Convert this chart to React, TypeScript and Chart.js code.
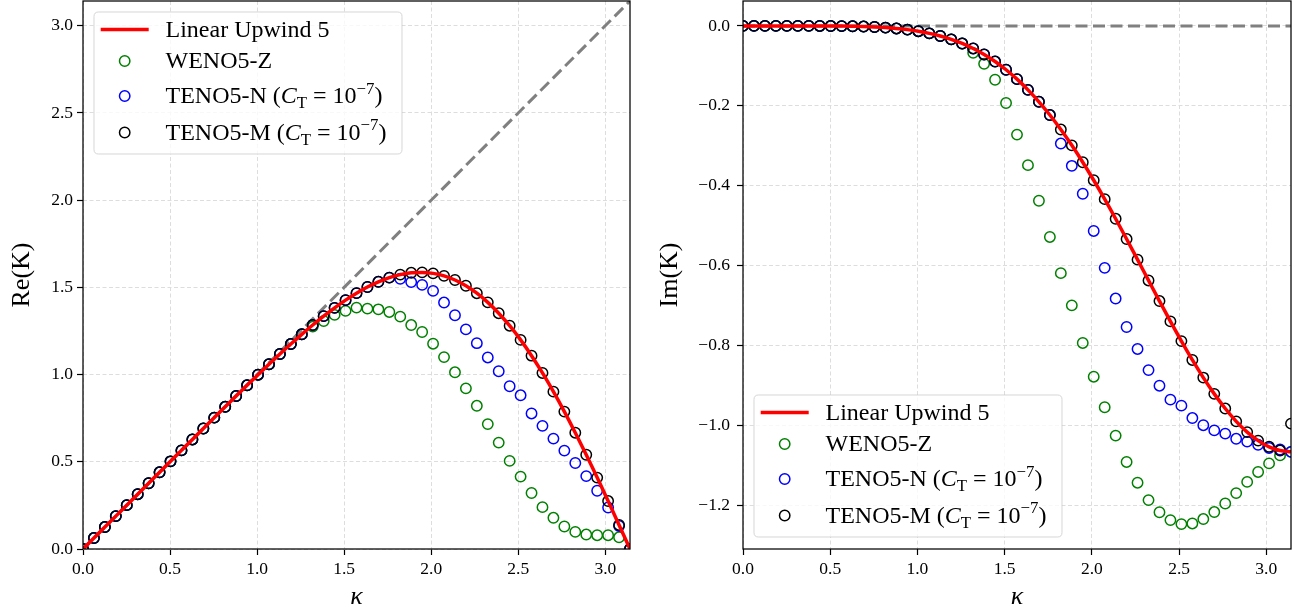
import React, { useEffect, useRef } from 'react';
import { Chart, registerables } from 'chart.js';

Chart.register(...registerables);

// ---------------- data ----------------
const kappa = [
  0, 0.0628, 0.1257, 0.1885, 0.2513, 0.3142, 0.377, 0.4398, 0.5027, 0.5655,
  0.6283, 0.6912, 0.754, 0.8168, 0.8796, 0.9425, 1.0053, 1.0681, 1.131, 1.1938,
  1.2566, 1.3195, 1.3823, 1.4451, 1.508, 1.5708, 1.6336, 1.6965, 1.7593, 1.8221,
  1.885, 1.9478, 2.0106, 2.0735, 2.1363, 2.1991, 2.2619, 2.3248, 2.3876, 2.4504,
  2.5133, 2.5761, 2.6389, 2.7018, 2.7646, 2.8274, 2.8903, 2.9531, 3.0159, 3.0788,
  3.1416,
];

const upwind5Re = [
  0, 0.0628, 0.1257, 0.1885, 0.2513, 0.3142, 0.377, 0.4398, 0.5026, 0.5654,
  0.6281, 0.6907, 0.7531, 0.8153, 0.8771, 0.9385, 0.9992, 1.0591, 1.1178, 1.1751,
  1.2307, 1.2841, 1.3349, 1.3826, 1.4267, 1.4667, 1.5019, 1.5318, 1.5557, 1.5731,
  1.5833, 1.5858, 1.5801, 1.5657, 1.5421, 1.5092, 1.4665, 1.4141, 1.3519, 1.28,
  1.1987, 1.1083, 1.0092, 0.9021, 0.7877, 0.6668, 0.5404, 0.4094, 0.2749, 0.138,
  0,
];
const weno5zRe = [
  0, 0.0628, 0.1257, 0.1885, 0.2513, 0.3142, 0.377, 0.4398, 0.5026, 0.5654,
  0.6281, 0.6907, 0.7531, 0.8153, 0.8771, 0.9385, 0.9992, 1.0591, 1.1178, 1.1751,
  1.2307, 1.275, 1.307, 1.342, 1.365, 1.384, 1.378, 1.374, 1.359, 1.332,
  1.284, 1.244, 1.177, 1.1, 1.013, 0.921, 0.821, 0.716, 0.61, 0.505,
  0.415, 0.321, 0.24, 0.179, 0.129, 0.098, 0.083, 0.079, 0.079, 0.067,
  0,
];
const teno5nRe = [
  0, 0.0628, 0.1257, 0.1885, 0.2513, 0.3142, 0.377, 0.4398, 0.5026, 0.5654,
  0.6281, 0.6907, 0.7531, 0.8153, 0.8771, 0.9385, 0.9992, 1.0591, 1.1178, 1.1751,
  1.2307, 1.2841, 1.3349, 1.3826, 1.4267, 1.4667, 1.5019, 1.5318, 1.5557, 1.549,
  1.53, 1.514, 1.48, 1.413, 1.34, 1.259, 1.18, 1.098, 1.019, 0.933,
  0.881, 0.777, 0.706, 0.633, 0.564, 0.493, 0.418, 0.334, 0.238, 0.132,
  0,
];
const teno5mRe = [
  0, 0.0628, 0.1257, 0.1885, 0.2513, 0.3142, 0.377, 0.4398, 0.5026, 0.5654,
  0.6281, 0.6907, 0.7531, 0.8153, 0.8771, 0.9385, 0.9992, 1.0591, 1.1178, 1.1751,
  1.2307, 1.2841, 1.3349, 1.3826, 1.4267, 1.4667, 1.5019, 1.5318, 1.5557, 1.5731,
  1.5833, 1.5858, 1.5801, 1.5657, 1.5421, 1.5092, 1.4665, 1.4141, 1.3519, 1.28,
  1.1987, 1.1083, 1.0092, 0.9021, 0.7877, 0.6668, 0.5404, 0.4094, 0.2749, 0.138,
  0,
];

const upwind5Im = [
  0, 0, 0, 0, 0, 0, 0, -0.0001, -0.0003, -0.0005,
  -0.0009, -0.0016, -0.0027, -0.0042, -0.0064, -0.0093, -0.0133, -0.0186, -0.0252, -0.0336,
  -0.044, -0.0565, -0.0715, -0.0892, -0.1098, -0.1333, -0.1601, -0.19, -0.2232, -0.2596,
  -0.2991, -0.3414, -0.3865, -0.4338, -0.483, -0.5337, -0.5854, -0.6374, -0.6891, -0.74,
  -0.7893, -0.8365, -0.8807, -0.9215, -0.9582, -0.9903, -1.0172, -1.0386, -1.0541, -1.0635,
  -1.0667,
];
const weno5zIm = [
  0, 0, 0, 0, 0, 0, 0, -0.0001, -0.0003, -0.0005,
  -0.0009, -0.0016, -0.0027, -0.0042, -0.0064, -0.0093, -0.0133, -0.0186, -0.0252, -0.0336,
  -0.044, -0.0674, -0.0949, -0.1348, -0.1931, -0.2722, -0.3487, -0.4378, -0.5285, -0.6192,
  -0.6998, -0.794, -0.8785, -0.955, -1.026, -1.092, -1.144, -1.1875, -1.218, -1.2376,
  -1.2476, -1.246, -1.235, -1.2175, -1.196, -1.17, -1.142, -1.117, -1.0956, -1.0756,
  -1.0667,
];
const teno5nIm = [
  0, 0, 0, 0, 0, 0, 0, -0.0001, -0.0003, -0.0005,
  -0.0009, -0.0016, -0.0027, -0.0042, -0.0064, -0.0093, -0.0133, -0.0186, -0.0252, -0.0336,
  -0.044, -0.0565, -0.0715, -0.0892, -0.1098, -0.1333, -0.1601, -0.19, -0.2232, -0.2946,
  -0.3504, -0.4203, -0.5135, -0.6059, -0.6828, -0.754, -0.809, -0.862, -0.901, -0.936,
  -0.951, -0.982, -1.0, -1.013, -1.021, -1.034, -1.041, -1.049, -1.057, -1.061,
  -1.0667,
];
const teno5mIm = [
  0, 0, 0, 0, 0, 0, 0, -0.0001, -0.0003, -0.0005,
  -0.0009, -0.0016, -0.0027, -0.0042, -0.0064, -0.0093, -0.0133, -0.0186, -0.0252, -0.0336,
  -0.044, -0.0565, -0.0715, -0.0892, -0.1098, -0.1333, -0.1601, -0.19, -0.2232, -0.2596,
  -0.2991, -0.3414, -0.3865, -0.4338, -0.483, -0.5337, -0.5854, -0.6374, -0.6891, -0.74,
  -0.7893, -0.8365, -0.8807, -0.9215, -0.9582, -0.9903, -1.0172, -1.0386, -1.0541, -1.0635,
  -0.996,
];

// reference (exact dispersion / zero dissipation) lines
const refReX = [0, 3.1416];
const refReY = [0, 3.1416];
const refImX = [0, 3.1416];
const refImY = [0, 0];

const xTicks = [0, 0.5, 1.0, 1.5, 2.0, 2.5, 3.0];
const reTicks = [0, 0.5, 1.0, 1.5, 2.0, 2.5, 3.0];
const imTicks = [0, -0.2, -0.4, -0.6, -0.8, -1.0, -1.2];

const kappaLimits = [0, 3.14159];
const reLimits = [0, 3.14159];
const imLimits = [-1.31, 0.0624];

const seriesNames = ['Linear Upwind 5', 'WENO5-Z', 'TENO5-N', 'TENO5-M'];
const seriesColors = ['#ff0000', '#008000', '#0000ff', '#000000'];
const thresholdText = { sym: 'C', sub: 'T', eq: ' = 10', sup: '\u22127' };

// ---------------- styling ----------------
const FAMILY = "'Liberation Serif', 'DejaVu Serif', serif";
const GRID = '#dddddd';
const MARKER_R = 5.2;
const MARKER_W = 1.5;

type Part = { t: string; italic?: boolean; scale?: number; dy?: number };

function drawParts(ctx: CanvasRenderingContext2D, x: number, y: number, parts: Part[], fs: number) {
  let cx = x;
  for (const p of parts) {
    const size = fs * (p.scale ?? 1);
    ctx.font = `${p.italic ? 'italic ' : ''}${size}px ${FAMILY}`;
    ctx.fillText(p.t, cx, y + (p.dy ?? 0) * fs);
    cx += ctx.measureText(p.t).width;
  }
  return cx - x;
}

function legendParts(i: number): Part[] {
  const name = seriesNames[i];
  if (i < 2) return [{ t: name }];
  return [
    { t: name + ' (' },
    { t: thresholdText.sym, italic: true },
    { t: thresholdText.sub, scale: 0.7, dy: 0.2 },
    { t: thresholdText.eq },
    { t: thresholdText.sup, scale: 0.7, dy: -0.4 },
    { t: ')' },
  ];
}

function makePlugin(corner: 'tl' | 'bl') {
  return {
    id: 'frameLegend' + corner,
    afterDatasetsDraw(chart: any) {
      const { ctx, chartArea: a } = chart;
      ctx.save();
      ctx.strokeStyle = '#000';
      ctx.lineWidth = 1.25;
      ctx.strokeRect(a.left, a.top, a.right - a.left, a.bottom - a.top);
      ctx.restore();
    },
    afterDraw(chart: any) {
      const { ctx, chartArea: a } = chart;
      const fs = 24;
      const boxH = 142;
      const bx = a.left + 11;
      const by = corner === 'tl' ? a.top + 11 : a.bottom - 12 - boxH;
      ctx.save();
      let maxW = 0;
      for (let i = 0; i < 4; i++) {
        let w = 0;
        for (const p of legendParts(i)) {
          ctx.font = `${p.italic ? 'italic ' : ''}${fs * (p.scale ?? 1)}px ${FAMILY}`;
          w += ctx.measureText(p.t).width;
        }
        maxW = Math.max(maxW, w);
      }
      const textX = bx + 71.5;
      const boxW = Math.max(308, textX - bx + maxW + 10);
      const r = 4.5;
      ctx.beginPath();
      ctx.moveTo(bx + r, by);
      ctx.lineTo(bx + boxW - r, by);
      ctx.quadraticCurveTo(bx + boxW, by, bx + boxW, by + r);
      ctx.lineTo(bx + boxW, by + boxH - r);
      ctx.quadraticCurveTo(bx + boxW, by + boxH, bx + boxW - r, by + boxH);
      ctx.lineTo(bx + r, by + boxH);
      ctx.quadraticCurveTo(bx, by + boxH, bx, by + boxH - r);
      ctx.lineTo(bx, by + r);
      ctx.quadraticCurveTo(bx, by, bx + r, by);
      ctx.closePath();
      ctx.fillStyle = 'rgba(255,255,255,0.8)';
      ctx.fill();
      ctx.strokeStyle = 'rgba(204,204,204,0.8)';
      ctx.lineWidth = 1;
      ctx.stroke();

      const rows = [17.5, 49, 84, 120.5];
      for (let i = 0; i < 4; i++) {
        const cy = by + rows[i];
        if (i === 0) {
          ctx.strokeStyle = seriesColors[0];
          ctx.lineWidth = 3.5;
          ctx.beginPath();
          ctx.moveTo(bx + 6.7, cy);
          ctx.lineTo(bx + 54.7, cy);
          ctx.stroke();
        } else {
          ctx.strokeStyle = seriesColors[i];
          ctx.lineWidth = MARKER_W;
          ctx.beginPath();
          ctx.arc(bx + 30.7, cy, MARKER_R, 0, Math.PI * 2);
          ctx.stroke();
        }
        ctx.fillStyle = '#000';
        ctx.textBaseline = 'alphabetic';
        drawParts(ctx, textX, cy + 0.31 * fs, legendParts(i), fs);
      }
      ctx.restore();
    },
  };
}

function fmt(v: number) {
  const s = Math.abs(v) < 1e-9 ? '0.0' : v.toFixed(1);
  return s.replace('-', '\u2212');
}

function buildConfig(panel: 're' | 'im'): any {
  const isRe = panel === 're';
  const lin = isRe ? upwind5Re : upwind5Im;
  const w = isRe ? weno5zRe : weno5zIm;
  const n = isRe ? teno5nRe : teno5nIm;
  const m = isRe ? teno5mRe : teno5mIm;
  const rx = isRe ? refReX : refImX;
  const ry = isRe ? refReY : refImY;
  const pts = (arr: number[]) => kappa.map((k, i) => ({ x: k, y: arr[i] }));
  const marker = (label: string, color: string, arr: number[], order: number) => ({
    label,
    data: pts(arr),
    showLine: false,
    pointRadius: MARKER_R,
    pointHoverRadius: MARKER_R,
    pointBorderWidth: MARKER_W,
    pointBorderColor: color,
    pointBackgroundColor: 'rgba(0,0,0,0)',
    borderColor: color,
    backgroundColor: 'rgba(0,0,0,0)',
    order,
    clip: 0,
  });
  const tickFont = { family: FAMILY, size: 17.5 };
  const titleFont = { family: FAMILY, size: 26, lineHeight: 1.0 };
  return {
    type: 'line',
    data: {
      datasets: [
        {
          label: seriesNames[0],
          data: pts(lin),
          borderColor: seriesColors[0],
          borderWidth: 3.5,
          pointRadius: 0,
          fill: false,
          cubicInterpolationMode: 'monotone',
          order: 0,
          clip: 0,
        },
        marker(seriesNames[3], seriesColors[3], m, 1),
        marker(seriesNames[2], seriesColors[2], n, 2),
        marker(seriesNames[1], seriesColors[1], w, 3),
        {
          label: 'reference',
          data: rx.map((x, i) => ({ x, y: ry[i] })),
          borderColor: '#808080',
          borderWidth: 3,
          borderDash: [12, 5.5],
          pointRadius: 0,
          fill: false,
          order: 4,
          clip: 0,
        },
      ],
    },
    options: {
      responsive: false,
      animation: false,
      devicePixelRatio: 1,
      events: [],
      layout: { autoPadding: false, padding: { left: 0, right: isRe ? 20 : 8, top: 1, bottom: 0 } },
      plugins: { legend: { display: false }, tooltip: { enabled: false }, title: { display: false } },
      scales: {
        x: {
          type: 'linear',
          min: kappaLimits[0],
          max: kappaLimits[1],
          afterBuildTicks: (s: any) => {
            s.ticks = xTicks.map((v) => ({ value: v }));
          },
          afterFit: (s: any) => {
            s.height = 64;
            s.paddingLeft = 0;
            s.paddingRight = 0;
            s.paddingTop = 0;
            s.paddingBottom = 0;
          },
          ticks: { font: tickFont, color: '#000', padding: 4, maxRotation: 0, autoSkip: false, callback: (v: number) => fmt(v) },
          grid: { color: GRID, lineWidth: 1, drawTicks: true, tickLength: 6, tickColor: '#000', tickWidth: 1.2 },
          border: { display: false, dash: [4, 2.5] },
          title: { display: true, text: '\u03ba', color: '#000', font: { ...titleFont, style: 'italic' }, padding: { top: 0, bottom: 3 } },
        },
        y: {
          type: 'linear',
          min: isRe ? reLimits[0] : imLimits[0],
          max: isRe ? reLimits[1] : imLimits[1],
          afterBuildTicks: (s: any) => {
            s.ticks = (isRe ? reTicks : imTicks).map((v) => ({ value: v }));
          },
          afterFit: (s: any) => {
            s.width = isRe ? 83 : 93;
            s.paddingLeft = 0;
            s.paddingRight = 0;
            s.paddingTop = 0;
            s.paddingBottom = 0;
          },
          ticks: { font: tickFont, color: '#000', padding: isRe ? 4 : 7, autoSkip: false, callback: (v: number) => fmt(v) },
          grid: { color: GRID, lineWidth: 1, drawTicks: true, tickLength: 6, tickColor: '#000', tickWidth: 1.2 },
          border: { display: false, dash: [4, 2.5] },
          title: {
            display: true,
            text: isRe ? 'Re(K)' : 'Im(K)',
            color: '#000',
            font: titleFont,
            padding: { top: isRe ? 9 : 7, bottom: 0 },
          },
        },
      },
    },
    plugins: [makePlugin(isRe ? 'tl' : 'bl')],
  };
}

export default function App() {
  const leftRef = useRef<HTMLCanvasElement>(null);
  const rightRef = useRef<HTMLCanvasElement>(null);
  useEffect(() => {
    const c1 = new Chart(leftRef.current as HTMLCanvasElement, buildConfig('re'));
    const c2 = new Chart(rightRef.current as HTMLCanvasElement, buildConfig('im'));
    return () => {
      c1.destroy();
      c2.destroy();
    };
  }, []);
  return (
    <div style={{ position: 'absolute', left: 0, top: 0, width: 1299, height: 613, background: '#ffffff' }}>
      <canvas
        ref={leftRef}
        width={650}
        height={613}
        style={{ position: 'absolute', left: 0, top: 0, width: 650, height: 613 }}
      />
      <canvas
        ref={rightRef}
        width={649}
        height={613}
        style={{ position: 'absolute', left: 650, top: 0, width: 649, height: 613 }}
      />
    </div>
  );
}
